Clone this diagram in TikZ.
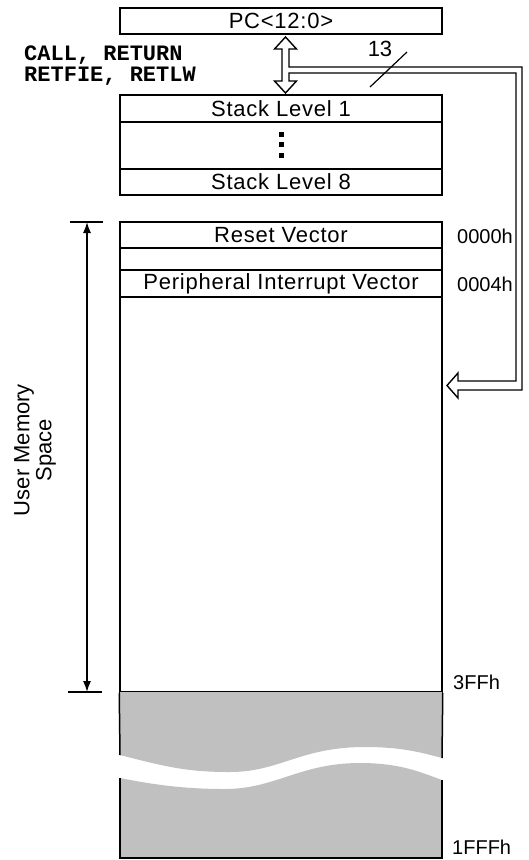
\documentclass[tikz,border=0pt]{standalone}
\usepackage{fontspec}
\setmainfont{Liberation Sans}
\newfontfamily\cellfont[LetterSpace=3.5]{Liberation Sans}
\newfontfamily\codefont{Liberation Mono}
\usetikzlibrary{arrows.meta}
\definecolor{memgray}{RGB}{192,192,192}
\begin{document}
\begin{tikzpicture}[x=1pt,y=-1pt,
  cell/.style={draw, line width=1.5pt, minimum width=322pt, inner sep=0pt,
               font=\cellfont\fontsize{22}{22}\selectfont},
  addr/.style={anchor=west, inner sep=0pt, font=\fontsize{20}{20}\selectfont},
  rule/.style={line width=1.5pt},
  bus/.style={line width=1.4pt, line join=miter, fill=white},
  span/.style={line width=1.4pt,
               {Latex[length=11pt,width=8pt]}-{Latex[length=11pt,width=8pt]}},
]
\useasboundingbox (0,0) rectangle (528,860);

% program counter
\node[cell, minimum height=26pt] (pc) at (281,21) {PC<12:0>};

% hardware stack
\node[cell, minimum height=27pt] (st1) at (281,108.5) {Stack Level 1};
\node[cell, minimum height=47pt] (stdots) at (281,145.5) {};
\node[cell, minimum height=26pt] (st8) at (281,182) {Stack Level 8};
\foreach \yy in {131.5,142,152.5}
  \fill (278.5,\yy) rectangle ++(5,5);

% stack operations
\node[anchor=west, inner sep=0pt, align=left,
      font=\codefont\bfseries\fontsize{22}{21}\selectfont] (ops) at (24,66)
      {CALL, RETURN\\RETFIE, RETLW};

% program memory
\node[cell, minimum height=26pt] (reset) at (281,235) {Reset Vector};
\node[cell, minimum height=22pt] (gap) at (281,259) {};
\node[cell, minimum height=27pt] (periph) at (281,283.5) {Peripheral Interrupt Vector};
\node[cell, minimum height=395pt] (body) at (281,494.5) {};

% unimplemented region with break
\fill[memgray] (120,692) -- (442,692) -- (442,758)
  .. controls (420,752) and (400,747) .. (365,747)
  .. controls (300,747) and (280,772) .. (230,772)
  .. controls (190,772) and (170,768) .. (120,755) -- cycle;
\fill[memgray] (120,778)
  .. controls (160,786) and (190,789) .. (225,789)
  .. controls (275,789) and (300,763) .. (360,763)
  .. controls (400,763) and (420,772) .. (442,780)
  -- (442,858) -- (120,858) -- cycle;
\draw[rule] (body.south west) -- (120,755);
\draw[rule] (body.south east) -- (442,758);
\draw[rule] (120,778) -- (120,858) -- (442,858) -- (442,780);

% addresses
\node[addr] (a0) at (457,236) {0000h};
\node[addr] (a4) at (457,284) {0004h};
\node[addr] (a3ff) at (453,682) {3FFh};
\node[addr] (a1fff) at (452,847) {1FFFh};

% user memory span
\coordinate (utop) at (87,222);
\coordinate (ubot) at (87,692);
\draw[line width=1.2pt] (70,222) -- (103,222);
\draw[line width=1.2pt] (68,692) -- (102,692);
\draw[span] (utop) -- (ubot);
\node[rotate=90, align=center, inner sep=0pt,
      font=\fontsize{22}{22}\selectfont] (ulabel) at (35,450) {User Memory\\Space};

% 13-bit path between PC, stack and memory
\draw[bus] (282,49) -- (274.5,49) -- (285.5,37) -- (296.5,49) -- (289,49)
  -- (289,67) -- (522,67) -- (522,390) -- (458,390) -- (458,398)
  -- (447,385.5) -- (458,373) -- (458,381) -- (516,381) -- (516,73)
  -- (289,73) -- (289,81) -- (296.5,81) -- (285.5,93) -- (274.5,81)
  -- (282,81) -- cycle;
\draw[line width=1.2pt] (370,87) -- (407,52);
\node[inner sep=0pt, font=\fontsize{22}{22}\selectfont] (w13) at (380,49) {13};
\end{tikzpicture}
\end{document}
